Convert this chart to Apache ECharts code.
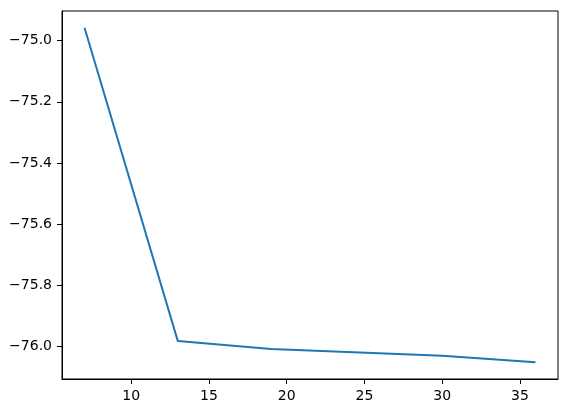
<!DOCTYPE html>
<html>
<head>
<meta charset="utf-8" />
<title></title>
<script src="https://cdn.jsdelivr.net/npm/echarts@6/dist/echarts.min.js"></script>
<style>
  html, body { margin: 0; padding: 0; background: #fff; }
  #EChart { width: 568px; height: 413px; }
</style>
</head>
<body>
<div id="EChart"></div>
<script type="text/javascript">
    // data
    var xValues = [7, 13, 19, 30, 36];
    var yValues = [-74.958, -75.983, -76.009, -76.031, -76.052];
    var xTicks = [10, 15, 20, 25, 30, 35];
    var yTicks = [-76.0, -75.8, -75.6, -75.4, -75.2, -75.0];

    var points = xValues.map(function (x, i) { return [x, yValues[i]]; });

    function minusLabel(v, digits) {
        var s = digits ? v.toFixed(digits) : String(v);
        return s.replace('-', '\u2212');
    }

    var font = { fontFamily: 'DejaVu Sans', fontSize: 14, color: '#000' };

    var option = {
        animation: false,
        grid: {
            left: 62, right: 10, top: 11, bottom: 34,
            show: true, borderColor: '#000', borderWidth: 1
        },
        xAxis: {
            type: 'value',
            min: 5.55,
            max: 37.45,
            axisLine: { show: true, lineStyle: { color: '#000', width: 1 } },
            axisTick: { show: true, length: 5, lineStyle: { color: '#000' }, customValues: xTicks },
            axisLabel: Object.assign({ margin: 10, customValues: xTicks,
                formatter: function (v) { return minusLabel(v, 0); } }, font),
            splitLine: { show: false }
        },
        yAxis: {
            type: 'value',
            min: -76.107,
            max: -74.903,
            axisLine: { show: true, lineStyle: { color: '#000', width: 1 } },
            axisTick: { show: true, length: 5, lineStyle: { color: '#000' }, customValues: yTicks },
            axisLabel: Object.assign({ margin: 10, customValues: yTicks,
                formatter: function (v) { return minusLabel(v, 1); } }, font),
            splitLine: { show: false }
        },
        series: [{
            type: 'line',
            data: points,
            symbol: 'none',
            lineStyle: { color: '#1f77b4', width: 2 }
        }]
    };

    var myChart = echarts.init(document.getElementById("EChart"));
    myChart.setOption(option);
</script>
</body>
</html>
